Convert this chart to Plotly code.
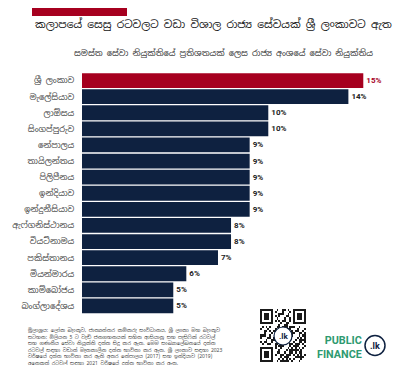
import plotly.graph_objects as go

countries = ["ශ්‍රී ලංකාව", "මැලේසියාව", "ලාඕසය", "සිංගප්පූරුව", "නේපාලය", "තායිලන්තය",
             "පිලිපීනය", "ඉන්දියාව", "ඉන්දුනීසියාව", "ඇෆ්ගනිස්ථානය", "වියට්නාමය",
             "පකිස්තානය", "මියන්මාරය", "කාම්බෝජය", "බංග්ලාදේශය"]
values = [15.1, 14.3, 10.0, 10.0, 9.0, 9.0, 9.0, 9.0, 9.0, 8.0, 8.0, 7.3, 5.6, 4.9, 4.9]
value_labels = ["15%", "14%", "10%", "10%", "9%", "9%", "9%", "9%", "9%", "8%", "8%", "7%", "6%", "5%", "5%"]

title = "කලාපයේ සෙසු රටවලට වඩා විශාල රාජ්‍ය සේවයක් ශ්‍රී ලංකාවට ඇත"
subtitle = "සමස්ත සේවා නියුක්තියේ ප්‍රතිශතයක් ලෙස රාජ්‍ය අංශයේ සේවා නියුක්තිය"
footnote = ("මූලාශ්‍රය: ලෝක බැංකුව, ජාත්‍යන්තර කම්කරු සංවිධානය, ශ්‍රී ලංකා මහ බැංකුව<br>"
            "සටහන: මිලියන 5 ට වැඩි ජනගහනයක් සහිත ආසියානු සහ පැසිෆික් රටවල්<br>"
            "සහ ගණනීය සේවා නියුක්ති දත්ත සිදු කර ඇත. මෙම සංඛ්‍යාලේඛනයේ දත්ත<br>"
            "රටවල් සඳහා වඩාත් මෑතකාලීන දත්ත භාවිතා කර ඇත. ශ්‍රී ලංකාව සඳහා 2023<br>"
            "වර්ෂයේ දත්ත භාවිතා කර ඇති අතර නේපාලය (2017) සහ ඉන්දියාව (2019)<br>"
            "අනෙකුත් රටවල් සඳහා 2021 වර්ෂයේ දත්ත භාවිතා කර ඇත.")

RED = "#A6001F"
NAVY = "#0E2140"
GREEN = "#2E9A70"
W, H = 410, 365
SIN = "Noto Sans Sinhala, Noto Sans, sans-serif"

def px(x):
    return x / W

def py(y):
    return 1 - y / H

colors = [RED] + [NAVY] * (len(values) - 1)
text_colors = [RED] + ["#222222"] * (len(values) - 1)

fig = go.Figure()
fig.add_trace(go.Bar(
    x=values, y=countries, orientation="h",
    marker=dict(color=colors, line=dict(width=0)),
    text=value_labels, textposition="outside",
    textfont=dict(color=text_colors, size=8, family="Roboto, Arial, sans-serif", weight="bold"),
    cliponaxis=False, showlegend=False, hoverinfo="skip",
))

# decorative QR-like pattern
N = 25
z = []
for i in range(N):
    row = []
    for j in range(N):
        v = ((i * 7 + j * 13 + (i * j) % 5) % 3 == 0) or ((i ^ j) % 4 == 1)
        row.append(1 if v else 0)
    z.append(row)
def finder(r0, c0):
    for a in range(7):
        for b in range(7):
            ring = a in (0, 6) or b in (0, 6)
            core = 2 <= a <= 4 and 2 <= b <= 4
            z[r0 + a][c0 + b] = 1 if (ring or core) else 0
    for a in range(-1, 8):
        for b in range(-1, 8):
            rr, cc = r0 + a, c0 + b
            if 0 <= rr < N and 0 <= cc < N and (a in (-1, 7) or b in (-1, 7)):
                z[rr][cc] = 0
finder(0, 0)
finder(0, N - 7)
finder(N - 7, 0)
fig.add_trace(go.Heatmap(z=z, xaxis="x2", yaxis="y2", showscale=False,
                         colorscale=[[0, "white"], [1, "#1a1a1a"]], hoverinfo="skip"))

fig.update_layout(
    width=W, height=H, margin=dict(l=0, r=0, t=0, b=0),
    paper_bgcolor="white", plot_bgcolor="white",
    bargap=0.08,
    xaxis=dict(domain=[px(74), px(400)], range=[0, 17.5], visible=False, fixedrange=True),
    yaxis=dict(domain=[py(306), py(64.5)], autorange="reversed", showgrid=False, showline=False,
               ticks="outside", ticklen=5, tickcolor="white",
               tickfont=dict(size=8.3, color="#444444", family=SIN)),
    xaxis2=dict(domain=[px(252), px(298)], visible=False, range=[-0.5, N - 0.5]),
    yaxis2=dict(domain=[py(354), py(301)], visible=False, range=[N - 0.5, -0.5]),
    font=dict(family=SIN),
)

shapes = [
    dict(type="rect", xref="paper", yref="paper", x0=px(24), x1=px(119), y0=py(8), y1=py(-2),
         fillcolor=RED, line=dict(width=0)),
    # QR center circle
    dict(type="circle", xref="paper", yref="paper", x0=px(266), x1=px(284), y0=py(337), y1=py(319),
         fillcolor="white", line=dict(color=NAVY, width=1.2)),
    # logo circle
    dict(type="circle", xref="paper", yref="paper", x0=px(357), x1=px(377), y0=py(347.5), y1=py(327.5),
         fillcolor="white", line=dict(color=NAVY, width=1.5)),
]
fig.update_layout(shapes=shapes)

ann = [
    dict(text=title, x=px(205), y=py(16), xref="paper", yref="paper", showarrow=False,
         font=dict(size=10.6, color="#111111", family=SIN), xanchor="center", yanchor="middle"),
    dict(text=subtitle, x=px(215), y=py(45), xref="paper", yref="paper", showarrow=False,
         font=dict(size=8.3, color="#333333", family=SIN), xanchor="center", yanchor="middle"),
    dict(text=footnote, x=px(18), y=py(338), xref="paper", yref="paper", showarrow=False,
         font=dict(size=5, color="#444444", family=SIN), xanchor="left", yanchor="middle", align="left"),
    dict(text="<b>.lk</b>", x=px(275), y=py(328), xref="paper", yref="paper", showarrow=False,
         font=dict(size=8, color=NAVY, family="Roboto"), xanchor="center", yanchor="middle"),
    dict(text="<b>PUBLIC<br>FINANCE</b>", x=px(356), y=py(339.5), xref="paper", yref="paper", showarrow=False,
         font=dict(size=10.8, color=GREEN, family="Roboto"), xanchor="right", yanchor="middle", align="right"),
    dict(text="<b>.lk</b>", x=px(367), y=py(337.5), xref="paper", yref="paper", showarrow=False,
         font=dict(size=9, color=NAVY, family="Roboto"), xanchor="center", yanchor="middle"),
]
fig.update_layout(annotations=ann)

fig.write_html("out.html", config=dict(displayModeBar=False))
